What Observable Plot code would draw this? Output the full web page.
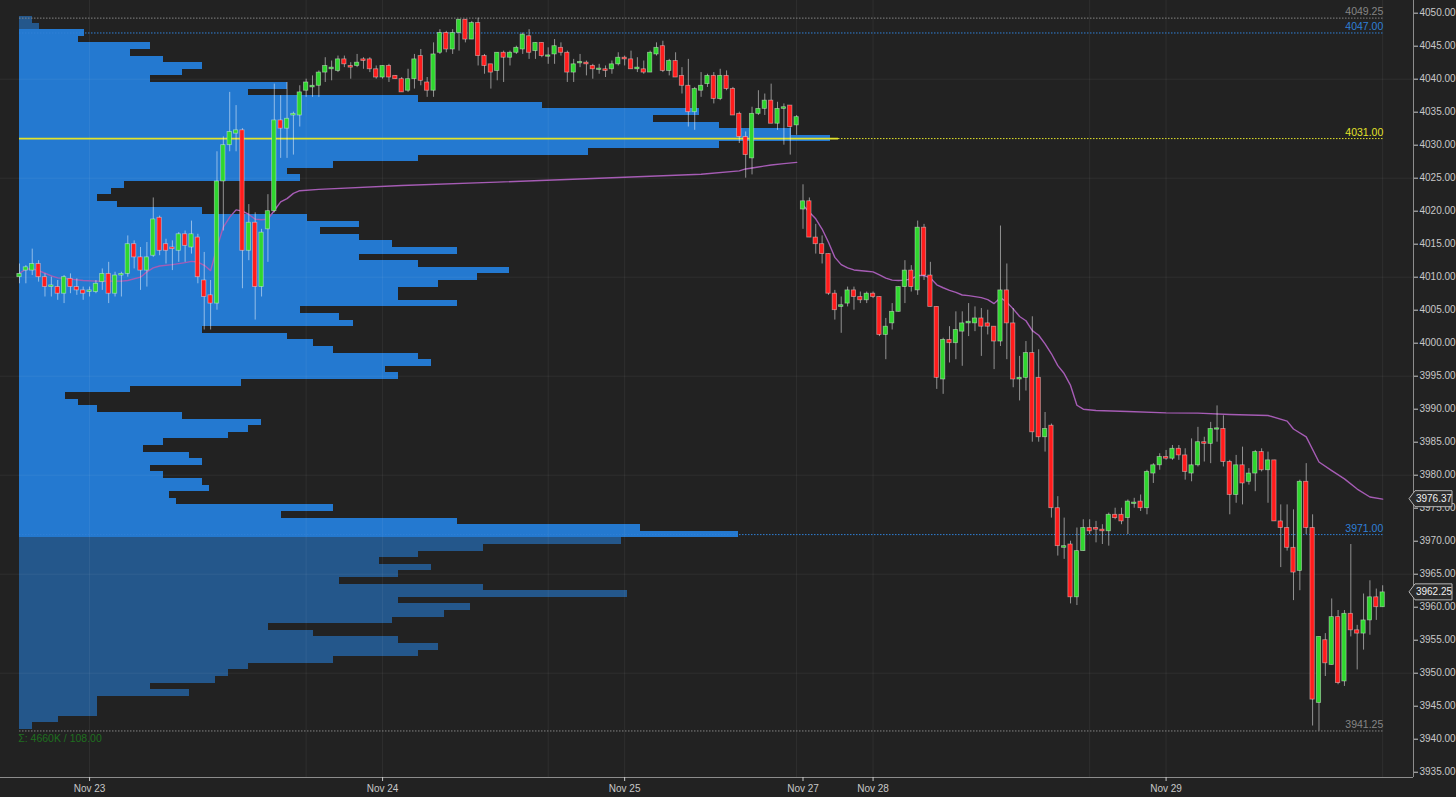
<!DOCTYPE html>
<html><head><meta charset="utf-8">
<script src="https://cdn.jsdelivr.net/npm/d3@7"></script>
<script src="https://cdn.jsdelivr.net/npm/@observablehq/plot@0.6"></script>
<style>
html,body{margin:0;padding:0;background:#222222;overflow:hidden;}
#chart svg{display:block;}
</style></head><body><div id="chart"></div>
<script>
// ---- 30-minute candles (index 0 = first bar of Nov 23 view) ----
const opens = [
4010.0,4011.0,4011.0,4012.0,4010.0,4008.5,4008.5,4007.5,4009.75,4008.5,
4008.0,4007.75,4007.75,4009.25,4010.5,4007.5,4010.25,4010.5,4015.0,4013.0,
4011.0,4013.25,4019.0,4015.0,4014.5,4014.0,4016.5,4014.5,4016.0,4009.5,
4007.25,4006.0,4024.5,4030.0,4031.75,4032.25,4014.0,4018.25,4008.5,4017.25,
4020.0,4033.75,4032.5,4034.5,4034.5,4038.25,4038.75,4039.0,4041.0,4041.5,
4041.25,4043.0,4042.0,4042.0,4043.0,4043.0,4041.5,4040.25,4042.0,4040.5,
4040.0,4038.25,4040.0,4043.5,4039.5,4038.25,4044.0,4047.0,4044.5,4047.0,
4049.0,4046.0,4048.5,4043.5,4042.25,4041.25,4044.0,4043.25,4044.0,4044.5,
4046.5,4044.25,4045.5,4043.5,4043.75,4044.75,4044.0,4041.0,4042.5,4042.5,
4042.0,4041.5,4041.5,4041.5,4042.25,4043.25,4043.0,4041.5,4041.5,4041.0,
4043.75,4045.0,4041.25,4042.75,4040.5,4039.0,4035.0,4038.25,4039.25,4040.5,
4037.0,4040.5,4038.5,4034.75,4031.25,4028.0,4034.75,4035.5,4036.75,4033.25,
4035.5,4036.0,4033.0,
4020.25,4021.5,4016.0,4015.0,4013.5,4007.5,4005.5,
4006.0,4008.0,4007.0,4006.5,4007.5,4007.0,4001.25,4003.0,4004.75,4008.5,
4011.0,4008.0,4017.5,4010.25,4005.5,3994.5,4000.5,4000.0,4001.75,4003.0,
4003.0,4003.75,4003.0,4002.5,4000.25,4008.0,4003.0,3994.5,3994.75,3998.5,
3994.75,3985.75,3987.5,3975.0,3969.0,3969.5,3961.5,3968.5,3972.0,3972.0,
3971.75,3971.5,3974.0,3974.0,3973.5,3975.75,3976.0,3975.0,3980.25,3981.5,
3982.75,3982.5,3984.0,3983.0,3980.25,3981.5,3985.0,3984.75,3987.0,3987.0,
3982.0,3977.0,3981.5,3979.0,3980.25,3983.5,3980.75,3982.25,3973.0,3972.0,
3969.0,3965.5,3979.0,3972.0,3945.5,3955.0,3951.25,3958.5,3948.75,3959.0,
3956.5,3956.0,3958.0,3961.5,3960.0];
const highs = [
4012.0,4011.75,4014.25,4012.5,4010.5,4010.0,4009.5,4010.25,4010.5,4009.75,
4008.5,4008.5,4009.5,4011.25,4012.25,4010.75,4010.75,4016.25,4015.5,4014.5,
4015.25,4022.0,4019.25,4015.75,4015.5,4016.75,4017.0,4018.5,4016.5,4013.75,
4009.5,4029.0,4031.25,4038.0,4036.0,4032.5,4021.0,4019.75,4017.25,4022.5,
4039.25,4037.5,4039.5,4035.0,4039.0,4040.0,4040.5,4041.25,4043.25,4042.75,
4043.5,4043.5,4042.5,4043.75,4043.25,4043.25,4042.0,4042.0,4042.25,4040.5,
4040.25,4041.5,4043.75,4044.5,4040.25,4045.5,4047.5,4047.25,4047.5,4049.0,
4049.0,4048.75,4049.25,4043.75,4042.25,4044.0,4044.25,4044.25,4045.0,4047.0,
4047.5,4045.5,4045.5,4044.75,4046.0,4045.5,4044.25,4043.0,4043.75,4042.75,
4042.25,4042.25,4042.0,4042.75,4044.0,4043.5,4044.25,4043.25,4042.75,4044.25,
4045.5,4045.75,4043.0,4044.0,4041.75,4043.0,4038.75,4041.0,4040.75,4041.0,
4041.5,4041.25,4038.75,4035.0,4032.0,4035.75,4038.25,4037.75,4039.25,4036.5,
4036.25,4036.0,4034.5,
4024.0,4022.0,4018.0,4016.25,4013.5,4008.0,4007.0,
4008.5,4008.5,4007.75,4007.75,4007.75,4007.0,4003.75,4006.0,4008.5,4012.5,
4011.75,4018.5,4018.0,4012.25,4005.5,4000.75,4002.5,4004.75,4004.75,4006.0,
4005.5,4005.25,4005.0,4002.5,4017.75,4012.0,4005.25,3998.0,4000.25,4004.0,
3999.0,3989.5,3987.75,3976.75,3973.5,3970.0,3972.0,3973.25,3973.25,3973.0,
3972.5,3974.25,3975.0,3975.0,3976.25,3976.5,3977.0,3980.75,3981.75,3983.25,
3983.75,3984.5,3984.5,3984.0,3985.5,3987.25,3985.75,3988.0,3990.5,3989.0,
3982.25,3983.0,3984.25,3981.0,3983.75,3984.0,3983.5,3982.25,3975.5,3975.5,
3974.75,3979.25,3981.75,3974.0,3955.5,3956.0,3961.25,3959.5,3959.5,3969.5,
3957.25,3962.0,3964.0,3962.75,3963.25];
const lows = [
4009.0,4009.0,4010.25,4009.25,4007.0,4007.0,4006.5,4006.0,4007.5,4007.25,
4006.5,4007.0,4007.5,4008.0,4006.0,4007.0,4007.0,4010.0,4011.25,4008.0,
4008.5,4013.0,4013.25,4012.0,4011.0,4012.25,4012.25,4013.5,4009.0,4002.0,
4002.0,4005.0,4017.0,4029.0,4029.0,4008.25,4012.5,4003.5,4007.0,4012.25,
4019.75,4028.0,4028.0,4028.5,4032.75,4037.25,4037.25,4037.25,4039.5,4039.75,
4041.0,4041.75,4040.0,4041.75,4041.5,4041.0,4040.0,4040.0,4039.5,4040.0,
4038.0,4038.0,4038.5,4039.0,4037.25,4037.25,4043.75,4044.0,4043.75,4044.25,
4045.5,4046.0,4042.0,4040.75,4038.5,4039.75,4039.5,4042.0,4043.75,4043.75,
4043.0,4043.0,4043.25,4042.25,4042.25,4043.5,4039.5,4039.5,4041.75,4040.5,
4040.0,4040.75,4040.25,4040.75,4042.0,4042.0,4041.5,4041.0,4040.75,4041.0,
4043.5,4041.0,4040.5,4040.25,4037.75,4032.75,4032.25,4037.25,4038.75,4036.25,
4036.75,4038.25,4034.5,4030.25,4025.0,4025.5,4034.5,4034.5,4033.25,4032.25,
4030.0,4028.5,4031.5,
4017.25,4016.0,4013.5,4012.0,4007.25,4003.5,4001.5,
4005.5,4005.0,4006.0,4006.0,4006.75,4001.0,3997.5,4002.0,4004.75,4006.0,
4007.75,4007.25,4009.5,4005.5,3993.0,3992.25,3997.0,3997.5,3996.5,4001.0,
4001.75,3998.0,4001.25,3996.0,3999.5,3997.5,3993.25,3991.25,3992.75,3985.0,
3985.0,3983.5,3973.5,3967.75,3967.25,3960.5,3960.25,3968.5,3971.0,3969.75,
3969.5,3969.25,3973.25,3972.5,3971.0,3975.0,3974.5,3974.0,3978.75,3980.75,
3982.25,3982.25,3982.25,3979.25,3979.0,3981.25,3982.0,3981.75,3985.0,3981.25,
3974.0,3975.75,3975.5,3978.5,3977.5,3980.5,3975.75,3973.0,3966.0,3968.5,
3961.0,3962.5,3971.0,3942.0,3941.25,3949.5,3951.25,3948.25,3948.0,3955.5,
3950.5,3953.5,3955.75,3958.0,3960.0];
const closes = [
4010.5,4011.5,4012.0,4010.0,4008.5,4008.75,4007.5,4010.0,4008.5,4008.0,
4007.5,4008.0,4009.0,4010.5,4007.5,4010.25,4010.5,4015.0,4013.0,4011.0,
4013.0,4018.75,4014.0,4014.0,4014.25,4016.5,4014.75,4016.5,4010.0,4007.0,
4006.0,4024.5,4030.0,4032.0,4032.25,4014.0,4018.25,4008.5,4016.75,4020.0,
4033.75,4032.5,4034.0,4034.75,4038.0,4039.5,4039.0,4041.0,4042.0,4041.75,
4043.0,4042.25,4041.75,4042.5,4042.75,4041.5,4040.25,4042.0,4040.25,4040.0,
4038.0,4040.0,4043.0,4039.75,4038.25,4043.75,4047.0,4044.5,4047.0,4049.0,
4046.0,4048.5,4043.5,4042.0,4041.0,4044.0,4043.25,4044.0,4044.75,4046.75,
4044.0,4045.5,4043.5,4043.5,4045.0,4044.0,4041.0,4042.25,4042.5,4042.25,
4041.5,4041.5,4041.25,4042.25,4043.25,4043.0,4041.5,4041.75,4041.0,4044.0,
4044.75,4041.25,4042.75,4040.25,4039.0,4035.0,4038.5,4039.0,4040.5,4037.0,
4040.5,4038.5,4034.5,4031.25,4028.5,4034.75,4035.5,4036.75,4033.25,4035.5,
4035.75,4032.75,4034.25,
4021.5,4016.0,4015.0,4013.5,4007.5,4005.0,4005.75,
4008.0,4007.0,4006.5,4007.5,4007.0,4001.25,4002.5,4004.75,4008.5,4011.0,
4008.5,4017.5,4010.25,4005.5,3994.75,4000.5,4000.0,4002.0,4003.0,4003.25,
4003.75,4002.5,4002.5,4000.25,4008.0,4003.0,3994.5,3994.75,3998.5,3986.5,
3985.75,3987.0,3975.0,3969.25,3969.25,3961.5,3968.5,3972.0,3971.5,3971.75,
3971.5,3974.0,3973.5,3973.0,3976.0,3975.75,3975.0,3980.5,3981.5,3982.75,
3982.5,3984.0,3983.0,3980.5,3981.5,3985.0,3984.75,3987.0,3987.0,3982.0,
3977.0,3981.5,3978.75,3980.25,3983.5,3980.75,3982.25,3973.0,3972.0,3969.0,
3965.25,3979.0,3972.0,3946.0,3955.5,3951.5,3958.5,3948.5,3959.0,3956.5,
3956.0,3958.0,3961.5,3960.0,3962.25];

// ---- VWAP (read points, two anchored segments) ----
const vwapIdx1 = [0,1,2,3,4,5,6,8,10,12,16,17,19,20,21,22,24,26,27,28,29,30,31,32,33,34,35,36,37,38,39,40,41,42,43,44,47,60,75,91,107,113,114,116,118,120,122];
const vwapVal1 = [4010.6,4011.2,4011.3,4011.0,4010.6,4010.2,4009.9,4009.7,4009.5,4009.4,4009.4,4009.5,4010.0,4010.8,4011.4,4011.7,4011.9,4012.2,4012.4,4012.3,4011.8,4011.0,4014.5,4017.6,4019.1,4020.2,4020.0,4019.5,4018.8,4018.7,4018.8,4020.1,4021.4,4021.9,4022.7,4023.1,4023.3,4023.9,4024.4,4025.0,4025.6,4026.1,4026.4,4026.7,4027.0,4027.2,4027.4];
const vwapIdx2 = [123,124,125,126,127,128,129,130,131,133,134,135,136,137,138,139,140,141,142,143,144,145,146,147,148,149,150,151,152,153,154,155,156,157,158,159,160,161,162,163,164,165,166,167,169,174,180,185,190,196,199,200,202,204,206,208,210,212,214];
const vwapVal2 = [4020.9,4019.85,4018.85,4017.3,4015.3,4013.0,4011.9,4011.4,4011.1,4010.9,4010.8,4010.35,4009.85,4009.55,4009.5,4009.55,4009.75,4010.25,4010.25,4009.9,4008.85,4008.4,4008.0,4007.7,4007.3,4007.2,4007.05,4006.9,4006.6,4006.0,4006.9,4006.2,4005.2,4004.05,4003.4,4001.9,4001.2,3999.9,3998.4,3996.6,3995.4,3993.6,3990.6,3990.0,3989.8,3989.65,3989.45,3989.4,3989.2,3989.05,3988.2,3987.0,3985.8,3982.0,3980.7,3979.45,3977.9,3976.7,3976.37];

// ---- Volume profile (K contracts per 1-point row) ----
const profilePrices = d3.range(4049, 3941, -1);
const profileVols = [
2,3,10,9,20,17,22,28,25,20,
41,35,61,80,104,97,107,118,124,107,
87,61,48,41,43,16,14,12,15,28,
44,52,46,52,57,67,52,61,75,70,
64,58,58,67,43,49,51,28,41,45,
48,61,63,56,58,34,17,7,9,12,
25,37,35,32,22,19,26,28,20,22,
28,29,23,24,48,40,67,95,110,92,
71,61,55,63,58,49,71,93,58,69,
65,57,38,45,58,64,61,48,35,32,
30,20,26,12,12,12,6,2];
const valueAreaHigh = 4047, valueAreaLow = 3971, pocPrice = 4031;

// ---- reference levels ----
const levelPrices = [4049.25, 4047.00, 4031.00, 3971.00, 3941.25];
const levelLabels = ["4049.25", "4047.00", "4031.00", "3971.00", "3941.25"];
const levelKinds  = ["extreme", "va", "poc", "va", "extreme"];
const totalLabel = "Σ: 4660K / 108.00";

// ---- axes ----
const dateTickIdx = [11, 57, 95, 123, 134, 180];
const dateTickLabels = ["Nov 23", "Nov 24", "Nov 25", "Nov 27", "Nov 28", "Nov 29"];
const sessionGridIdx = [11, 45, 57, 83, 95, 122, 134, 168, 180, 214];
const priceTicks = d3.range(3935, 4051, 5);
const priceGrid = [3950, 3965, 3980, 3995, 4010, 4025, 4040];

// ---- build tables ----
const candles = opens.map((o, i) => ({i, o, h: highs[i], l: lows[i], c: closes[i]}));
const vwap = [
  ...vwapIdx1.map((x, k) => ({x, v: vwapVal1[k], seg: 1})),
  ...vwapIdx2.map((x, k) => ({x, v: vwapVal2[k], seg: 2}))
];
const profile = profilePrices.map((p, k) => ({p, v: profileVols[k]}));
const levels = levelPrices.map((p, k) => ({p, label: levelLabels[k], kind: levelKinds[k]}));
const dateLabelMap = new Map(dateTickIdx.map((d, k) => [d, dateTickLabels[k]]));

const lastIdx = candles.length - 1;
const maxVol = d3.max(profileVols);
const pocLen = 127.3;               // profile length of the POC row, in bar slots
const xDomain = [-2.983, 218.84];
const yDomain = [3934.2, 4051.92];

const levelColor = {extreme: "#858585", va: "#2f7fd6", poc: "#e3e32a"};
const upCol = "#2fd62f", dnCol = "#ff1c1c";
const fontFam = "'Liberation Sans', Arial, 'DejaVu Sans', sans-serif";

const plot = Plot.plot({
  width: 1456, height: 797,
  marginLeft: 0, marginRight: 43, marginTop: 0, marginBottom: 20,
  style: {background: "#222222", color: "#c8c8c8", fontFamily: fontFam, fontSize: "10px"},
  x: {type: "linear", domain: xDomain, axis: null},
  y: {type: "linear", domain: yDomain, axis: null},
  marks: [
    // volume profile
    Plot.rect(profile, {
      x1: 0, x2: d => d.v / maxVol * pocLen,
      y1: d => d.p - 0.5, y2: d => d.p + 0.5,
      fill: d => (d.p <= valueAreaHigh && d.p >= valueAreaLow) ? "#2479d0" : "#24578b",
      inset: 0, shapeRendering: "crispEdges"
    }),
    // grid
    Plot.ruleY(priceGrid, {stroke: "#ffffff", strokeOpacity: 0.06}),
    Plot.ruleX(sessionGridIdx, {stroke: "#ffffff", strokeOpacity: 0.06}),
    // level lines
    Plot.ruleY(levels.filter(d => d.kind !== "poc"), {
      y: "p", x1: 0, x2: lastIdx + 0.1,
      stroke: d => levelColor[d.kind], strokeDasharray: "1.5,1.5", strokeWidth: 1
    }),
    Plot.ruleY(levels.filter(d => d.kind === "poc"), {
      y: "p", x1: pocLen * 1.01, x2: lastIdx + 0.1,
      stroke: levelColor.poc, strokeDasharray: "1.5,1.5", strokeWidth: 1
    }),
    Plot.ruleY(levels.filter(d => d.kind === "poc"), {
      y: "p", x1: 0, x2: pocLen * 1.01,
      stroke: levelColor.poc, strokeWidth: 1.8
    }),
    // VWAP
    Plot.line(vwap, {x: "x", y: "v", z: "seg", stroke: "#a65cb5", strokeWidth: 1.4, curve: "linear"}),
    // wicks
    Plot.ruleX(candles, {x: "i", y1: "l", y2: "h", stroke: "#ffffff", strokeOpacity: 0.5, strokeWidth: 1}),
    // bodies
    Plot.rect(candles, {
      x1: d => d.i - 0.34, x2: d => d.i + 0.34,
      y1: d => Math.min(d.o, d.c) - (Math.abs(d.o - d.c) < 0.2 ? 0.1 : 0),
      y2: d => Math.max(d.o, d.c) + (Math.abs(d.o - d.c) < 0.2 ? 0.1 : 0),
      fill: d => d.c >= d.o ? upCol : dnCol,
      stroke: "#ffffff", strokeOpacity: 0.45, strokeWidth: 0.8
    }),
    // level labels
    Plot.text(levels, {
      x: lastIdx + 0.1, y: "p", text: "label", textAnchor: "end", dy: -6,
      fill: d => levelColor[d.kind], fontSize: 10.5
    }),
    Plot.text([totalLabel], {
      x: -0.2, y: levelPrices[4], dy: 8, textAnchor: "start",
      fill: "#1f6f1f", fontSize: 10.5
    }),
    // axes
    Plot.ruleX([xDomain[1]], {stroke: "#8c8c8c"}),
    Plot.ruleY([yDomain[0]], {stroke: "#8c8c8c"}),
    Plot.axisY({anchor: "right", ticks: priceTicks, tickFormat: d => d.toFixed(2),
      tickSize: 4, tickPadding: 2, color: "#c8c8c8", fontSize: 10}),
    Plot.axisX({anchor: "bottom", ticks: dateTickIdx, tickFormat: d => dateLabelMap.get(d),
      tickSize: 4, tickPadding: 3, color: "#c8c8c8", fontSize: 10})
  ]
});

document.getElementById("chart").appendChild(plot);

// price tags on the right axis (last VWAP, last close)
const ys = plot.scale("y"), xs = plot.scale("x");
const ax = xs.apply(xDomain[1]);
const tags = [vwapVal2[vwapVal2.length - 1], closes[lastIdx]];
const g = d3.select(plot).append("g");
tags.forEach(v => {
  const y = ys.apply(v);
  g.append("path")
    .attr("d", `M${ax - 4},${y} L${ax + 2},${y - 8} L${ax + 39},${y - 8} L${ax + 39},${y + 8} L${ax + 2},${y + 8} Z`)
    .attr("fill", "#2b2b2b").attr("stroke", "#b5b5b5").attr("stroke-width", 1);
  g.append("text").attr("x", ax + 21).attr("y", y).attr("dy", "0.35em")
    .attr("text-anchor", "middle").attr("fill", "#f0f0f0")
    .attr("font-size", 10).attr("font-family", fontFam)
    .text(v.toFixed(2));
});
</script></body></html>
